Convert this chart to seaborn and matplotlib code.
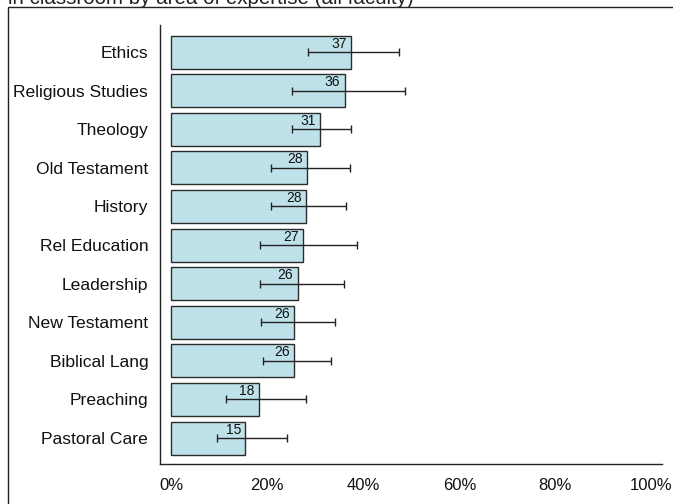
import matplotlib
matplotlib.use("Agg")
import matplotlib.pyplot as plt
import seaborn as sns
import pandas as pd
from matplotlib.patches import Rectangle

# Share of faculty by area of expertise, with interval bounds (percent)
areas = ["Ethics", "Religious Studies", "Theology", "Old Testament", "History",
         "Rel Education", "Leadership", "New Testament", "Biblical Lang",
         "Preaching", "Pastoral Care"]
pct = [37.4, 36.1, 30.9, 28.3, 28.0, 27.4, 26.3, 25.6, 25.6, 18.3, 15.4]
lower = [28.4, 25.1, 25.1, 20.7, 20.8, 18.4, 18.4, 18.7, 19.0, 11.3, 9.5]
upper = [47.4, 48.7, 37.4, 37.2, 36.3, 38.6, 36.0, 34.0, 33.3, 28.1, 24.1]
xticks = [0, 20, 40, 60, 80, 100]
xticklabels = ["0%", "20%", "40%", "60%", "80%", "100%"]
title = "in classroom by area of expertise (all faculty)"

df = pd.DataFrame({"area": areas, "pct": pct, "lower": lower, "upper": upper})

sns.set_theme(style="white")
plt.rcParams["font.family"] = ["Liberation Sans", "DejaVu Sans"]

W, H = 673, 504
fig = plt.figure(figsize=(W / 100, H / 100), dpi=100)
ax = fig.add_axes([160 / W, 1 - 464.3 / H, 502 / W, (464.3 - 25) / H])

sns.barplot(data=df, x="pct", y="area", orient="h", color="#bfe1e9",
            edgecolor="#2b2b2b", linewidth=1.0, width=0.855, saturation=1,
            errorbar=None, ax=ax)
for p in ax.patches:
    p.set_facecolor("#bfe1e9")

ypos = list(range(len(areas)))
ax.errorbar(df["pct"], ypos,
            xerr=[df["pct"] - df["lower"], df["upper"] - df["pct"]],
            fmt="none", ecolor="#222222", elinewidth=1.0, capsize=3.0,
            capthick=1.0, zorder=5)

for y, v in zip(ypos, df["pct"]):
    ax.text(v - 0.9, y - 0.40, f"{v:.0f}", ha="right", va="top",
            fontsize=10, color="#111111", zorder=6)

ax.set_xlim(-2.35, 102.2)
ax.set_ylim(10.68, -0.70)
ax.set_xticks(xticks)
ax.set_xticklabels(xticklabels)
ax.set_xlabel("")
ax.set_ylabel("")
for s in ["top", "right"]:
    ax.spines[s].set_visible(False)
for s in ["left", "bottom"]:
    ax.spines[s].set_color("#222222")
    ax.spines[s].set_linewidth(1.0)
ax.tick_params(axis="both", which="both", direction="out", length=5.5,
               width=0.9, color="#222222", labelcolor="#111111")
ax.tick_params(axis="y", pad=3, labelsize=12.6)
ax.tick_params(axis="x", pad=4.5, labelsize=12)

# surrounding panel frame and clipped heading
fig.patches.append(Rectangle((8 / W, -0.1), 1.2, 1 - 7 / H + 0.1,
                             transform=fig.transFigure, fill=False,
                             edgecolor="#222222", linewidth=1.0))
fig.text(8 / W, 1 - 4 / H, title, ha="left", va="baseline",
         fontsize=14.8, color="#222222")

fig.savefig("out.png", dpi=100)
